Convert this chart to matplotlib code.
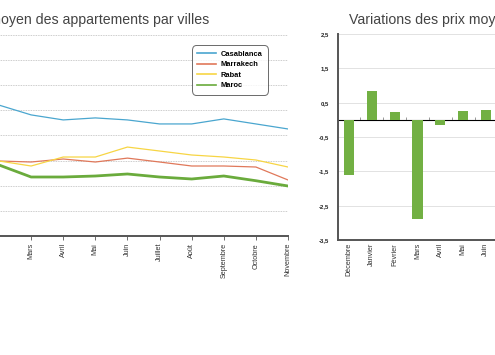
import numpy as np
import matplotlib.pyplot as plt
from matplotlib.ticker import FixedLocator, NullFormatter

plt.rcParams['font.family'] = ['Liberation Sans', 'DejaVu Sans']

# --- donnees prix moyen (DH/m2) ---
mois = ['Février', 'Mars', 'Avril', 'Mai', 'Juin', 'Juillet', 'Août',
        'Septembre', 'Octobre', 'Novembre']
casablanca = [11210, 10820, 10620, 10700, 10620, 10460, 10460, 10660, 10460, 10260]
marrakech = [8985, 8945, 9065, 8945, 9100, 8945, 8786, 8786, 8746, 8230]
rabat = [8985, 8786, 9144, 9144, 9540, 9383, 9224, 9144, 9025, 8746]
maroc = [8826, 8348, 8348, 8388, 8468, 8348, 8269, 8388, 8200, 7990]

# --- variations mensuelles (%) ---
mois_var = ['Décembre', 'Janvier', 'Février', 'Mars', 'Avril', 'Mai', 'Juin']
variations = [-1.62, 0.83, 0.24, -2.89, -0.15, 0.26, 0.29]

W, H = 495, 355
fig = plt.figure(figsize=(W/100, H/100), dpi=100)

gris = '#555555'

# ---------------- graphique de gauche ----------------
x0 = -1 - 0.3*32.1
ax = fig.add_axes([x0/W, (H-236)/H, (288-x0)/W, 201/H])
x = np.arange(len(mois))
ax.plot(x, casablanca, color='#4aa6cf', lw=0.9, label='Casablanca')
ax.plot(x, marrakech, color='#e0785a', lw=0.9, label='Marrakech')
ax.plot(x, rabat, color='#f7d544', lw=0.9, label='Rabat')
ax.plot(x, maroc, color='#6aab3c', lw=2.0, label='Maroc')
ax.set_xlim(-0.3, 9)
ax.set_ylim(6000, 14000)
ax.set_yticks(np.arange(6000, 14001, 1000))
ax.yaxis.grid(True, color='#bbbbbb', linestyle=(0, (1, 1)), lw=0.6)
ax.set_axisbelow(True)
ax.tick_params(axis='y', length=0, labelleft=False)
ax.set_xticks(x)
ax.set_xticklabels(mois, rotation=90, fontsize=5.2, color='#333333')
ax.tick_params(axis='x', length=3, width=0.6, color=gris, pad=2)
for s in ['top', 'right', 'left']:
    ax.spines[s].set_visible(False)
ax.spines['bottom'].set_color(gris)
ax.spines['bottom'].set_linewidth(1.4)

leg = ax.legend(loc='upper right', bbox_to_anchor=(268/W, (H-45)/H),
                bbox_transform=fig.transFigure, fontsize=5.4, frameon=True,
                handlelength=2.6, handletextpad=0.6, labelspacing=0.45,
                borderpad=0.7, borderaxespad=0, fancybox=True)
leg.get_frame().set_edgecolor('#444444')
leg.get_frame().set_linewidth(0.7)
leg.get_frame().set_boxstyle('round', pad=0, rounding_size=0.6)
for t in leg.get_texts():
    t.set_fontweight('bold')
for l in leg.get_lines():
    l.set_linewidth(1.2)

fig.text(209/W, (H-20)/H, 'Prix moyen des appartements par villes',
         ha='right', va='center', fontsize=10.2, color='#444444')

# ---------------- graphique de droite ----------------
pas = 22.8
ax2 = fig.add_axes([337.7/W, (H-240)/H, 12*pas/W, 206/H])
xb = np.arange(len(mois_var))
ax2.bar(xb, variations, width=0.44, color='#72b043')
ax2.set_xlim(-0.5, 11.5)
ax2.set_ylim(-3.5, 2.5)
ax2.set_yticks(np.arange(-3.5, 2.6, 1.0))
ax2.set_yticklabels([f'{v:.1f}'.replace('.', ',') for v in np.arange(-3.5, 2.6, 1.0)],
                    fontsize=4.3, fontweight='bold', color='#222222')
ax2.tick_params(axis='y', length=0, pad=6)
ax2.yaxis.grid(True, color='#dddddd', lw=0.6)
ax2.set_axisbelow(True)
ax2.set_xticks(xb)
ax2.set_xticklabels(mois_var, rotation=90, fontsize=5.2, color='#333333')
ax2.tick_params(axis='x', length=0, pad=2)
for s in ['top', 'right']:
    ax2.spines[s].set_visible(False)
for s in ['left', 'bottom']:
    ax2.spines[s].set_color(gris)
    ax2.spines[s].set_linewidth(1.4)

# ligne du zero avec petites graduations entre les barres
sec = ax2.secondary_xaxis(3.5/6.0)
sec.xaxis.set_major_locator(FixedLocator(np.arange(0.5, 11.5, 1.0)))
sec.xaxis.set_major_formatter(NullFormatter())
sec.tick_params(direction='out', length=2, width=0.6, color='#888888')
sec.spines['bottom'].set_color('#888888')
sec.spines['bottom'].set_linewidth(0.8)

fig.text(349/W, (H-20)/H, 'Variations des prix moyens',
         ha='left', va='center', fontsize=10.2, color='#444444')

fig.savefig('out.png', dpi=100)
